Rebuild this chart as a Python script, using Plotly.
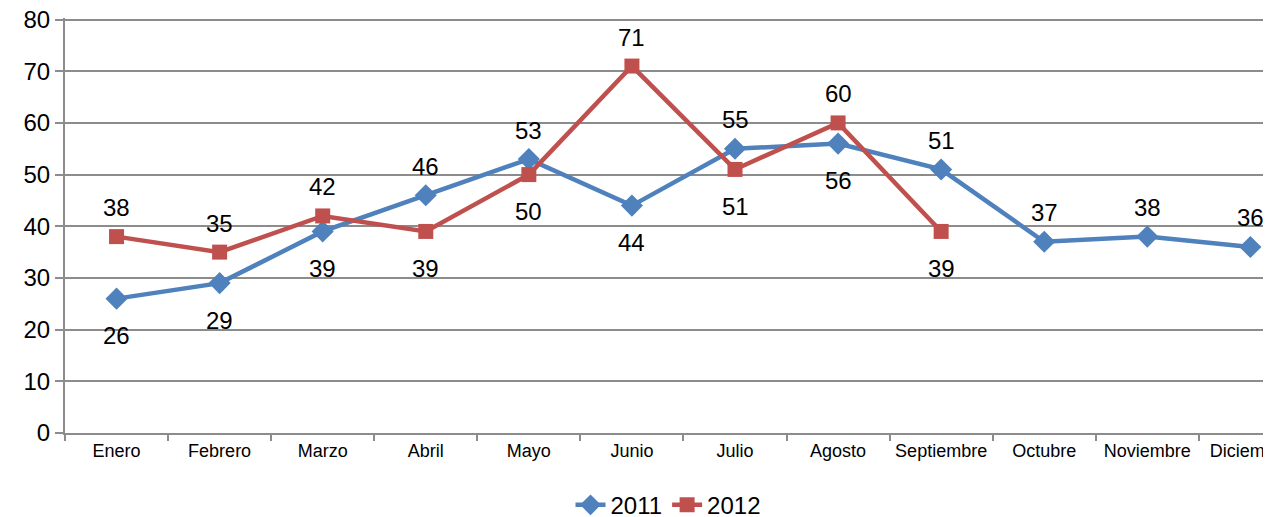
import plotly.graph_objects as go

months = ["Enero", "Febrero", "Marzo", "Abril", "Mayo", "Junio", "Julio",
          "Agosto", "Septiembre", "Octubre", "Noviembre", "Diciembre"]
s2011 = [26, 29, 39, 46, 53, 44, 55, 56, 51, 37, 38, 36]
s2012 = [38, 35, 42, 39, 50, 71, 51, 60, 39]
pos2011 = ["below", "below", "below", "above", "above", "below", "above",
           "below", "above", "above", "above", "above"]
pos2012 = ["above", "above", "above", "below", "below", "above", "below",
           "above", "below"]
y_ticks = [0, 10, 20, 30, 40, 50, 60, 70, 80]

BLUE = "#4F81BD"
RED = "#C0504D"
GRID = "#8C8C8C"
FONT = "Liberation Sans, Arial, sans-serif"

fig = go.Figure()
fig.add_trace(go.Scatter(
    x=months, y=s2011, name="2011", mode="lines+markers",
    line=dict(color=BLUE, width=4.5),
    marker=dict(symbol="diamond", size=17, color=BLUE),
    cliponaxis=False,
))
fig.add_trace(go.Scatter(
    x=months[:len(s2012)], y=s2012, name="2012", mode="lines+markers",
    line=dict(color=RED, width=4.5),
    marker=dict(symbol="square", size=15, color=RED),
    cliponaxis=False,
))

annotations = []
for xs, ys, ps in [(months, s2011, pos2011), (months, s2012, pos2012)]:
    for x, y, p in zip(xs, ys, ps):
        annotations.append(dict(
            x=x, y=y, xref="x", yref="y", text=str(y), showarrow=False,
            yshift=29 if p == "above" else -37,
            font=dict(family=FONT, size=24, color="#000000"),
        ))

fig.update_layout(
    width=1271, height=517,
    margin=dict(l=57, r=8, t=10, b=92, autoexpand=False),
    paper_bgcolor="white", plot_bgcolor="white",
    font=dict(family=FONT, color="#000000"),
    annotations=annotations,
    showlegend=True,
    legend=dict(
        orientation="h", x=0.5, xanchor="center", y=-0.174, yanchor="middle",
        font=dict(family=FONT, size=24),
    ),
    xaxis=dict(
        type="category", categoryorder="array", categoryarray=months,
        range=[-0.5, 11.2], automargin=False, tickangle=0,
        showgrid=False, showline=True, linecolor=GRID, linewidth=2,
        ticks="outside", tickson="boundaries", ticklen=6, tickcolor=GRID,
        tickwidth=2,
        tickfont=dict(family=FONT, size=18, color="#000000"),
        zeroline=False, fixedrange=True,
    ),
    yaxis=dict(
        range=[0, 80.3], tickmode="array", tickvals=y_ticks,
        ticktext=[str(v) for v in y_ticks], automargin=False,
        ticklabeloverflow="allow",
        showgrid=True, gridcolor=GRID, gridwidth=2,
        showline=True, linecolor=GRID, linewidth=2,
        ticks="outside", ticklen=8, tickcolor=GRID, tickwidth=2,
        tickfont=dict(family=FONT, size=24, color="#000000"),
        zeroline=False,
    ),
)

fig.write_html("out.html")
